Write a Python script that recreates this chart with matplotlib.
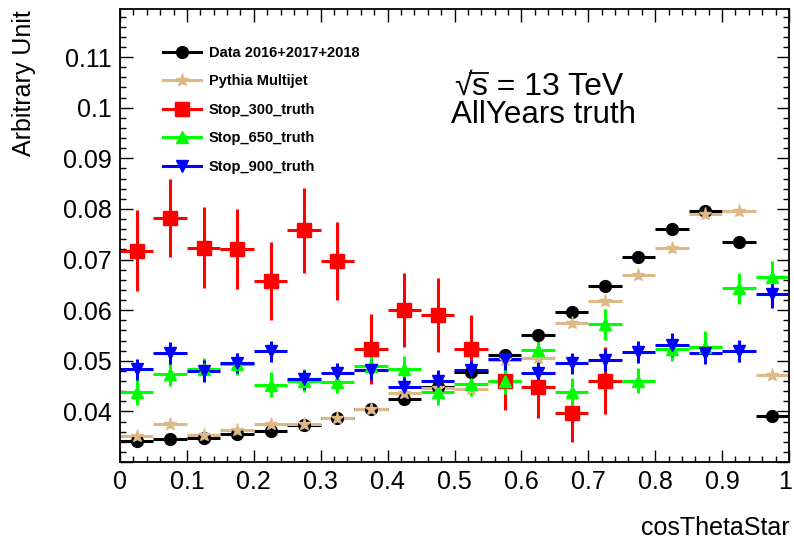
import numpy as np
import matplotlib
matplotlib.use("Agg")
import matplotlib.pyplot as plt
from matplotlib.lines import Line2D
from matplotlib.ticker import MultipleLocator

plt.rcParams['font.family'] = ['Liberation Sans', 'DejaVu Sans']

# cosThetaStar binning: 20 bins on [0, 1]
bin_edges = np.linspace(0.0, 1.0, 21)
centers = 0.5 * (bin_edges[:-1] + bin_edges[1:])
half_width = 0.5 * np.diff(bin_edges)

data_vals = [0.0341, 0.0345, 0.0348, 0.0355, 0.0362, 0.0374, 0.0387, 0.0405,
             0.0424, 0.0448, 0.0478, 0.0512, 0.0550, 0.0596, 0.0648, 0.0705,
             0.0760, 0.0796, 0.0735, 0.0390]
pythia_vals = [0.0352, 0.0376, 0.0353, 0.0364, 0.0376, 0.0376, 0.0386, 0.0405,
               0.0436, 0.0447, 0.0445, 0.0501, 0.0505, 0.0575, 0.0619, 0.0669,
               0.0722, 0.0790, 0.0796, 0.0471]
stop300_vals = [0.0717, 0.0783, 0.0723, 0.0720, 0.0658, 0.0758, 0.0697, 0.0524,
                0.0600, 0.0590, 0.0523, 0.0461, 0.0448, 0.0397, 0.0461]
stop300_err = [0.0080, 0.0077, 0.0080, 0.0079, 0.0077, 0.0084, 0.0077, 0.0069,
               0.0073, 0.0073, 0.0067, 0.0058, 0.0062, 0.0058, 0.0066]
stop650_vals = [0.0438, 0.0473, 0.0483, 0.0494, 0.0453, 0.0461, 0.0459, 0.0490,
                0.0484, 0.0438, 0.0455, 0.0460, 0.0521, 0.0438, 0.0572, 0.0461,
                0.0524, 0.0528, 0.0643, 0.0665]
stop650_err = [0.0025, 0.0023, 0.0023, 0.0022, 0.0025, 0.0022, 0.0022, 0.0022,
               0.0025, 0.0025, 0.0025, 0.0025, 0.0028, 0.0028, 0.0030, 0.0025,
               0.0025, 0.0030, 0.0030, 0.0032]
stop900_vals = [0.0483, 0.0516, 0.0480, 0.0495, 0.0519, 0.0463, 0.0476, 0.0482,
                0.0448, 0.0461, 0.0481, 0.0503, 0.0476, 0.0495, 0.0501, 0.0517,
                0.0532, 0.0515, 0.0520, 0.0631]
stop900_err = [0.0021, 0.0022, 0.0021, 0.0020, 0.0021, 0.0019, 0.0020, 0.0020,
               0.0020, 0.0020, 0.0020, 0.0021, 0.0021, 0.0021, 0.0022, 0.0022,
               0.0022, 0.0022, 0.0022, 0.0026]

labels = ["Data 2016+2017+2018", "Pythia Multijet", "Stop_300_truth",
          "Stop_650_truth", "Stop_900_truth"]
colors = ["#000000", "#DEB887", "#FF0000", "#00FF00", "#0000FF"]
markers = ["o", "*", "s", "^", "v"]
msizes = [8.5, 9.5, 9.5, 9.0, 9.0]

series = [
    (data_vals, None),
    (pythia_vals, None),
    (stop300_vals, stop300_err),
    (stop650_vals, stop650_err),
    (stop900_vals, stop900_err),
]

W, H = 794, 540
fig = plt.figure(figsize=(W / 100, H / 100), dpi=100)
ax = fig.add_axes([120 / W, 1 - 462 / H, 669 / W, 453 / H])

for (vals, errs), col, mk, ms in zip(series, colors, markers, msizes):
    n = len(vals)
    ax.errorbar(centers[:n], vals, xerr=half_width[:n], yerr=errs,
                fmt=mk, color=col, ms=ms, mec=col, mfc=col,
                elinewidth=2.2, capsize=0, linestyle='none')

x_lo, x_hi = 0.0, 1.0
ax.set_xlim(x_lo, x_hi)
ax.set_ylim(0.0300, 0.1195)
ax.xaxis.set_major_locator(MultipleLocator(0.1))
ax.xaxis.set_minor_locator(MultipleLocator(0.02))
ax.yaxis.set_major_locator(MultipleLocator(0.01))
ax.yaxis.set_minor_locator(MultipleLocator(0.002))
# the label at the right end is drawn separately, nudged inside the canvas
ax.xaxis.set_major_formatter(
    plt.FuncFormatter(lambda v, p: "" if v > x_hi - 1e-9 else f"{v:g}"))
ax.yaxis.set_major_formatter(
    plt.FuncFormatter(lambda v, p: "" if v < 0.035 else f"{v:g}"))
ax.tick_params(which='both', direction='in', top=True, right=True,
               width=1.0, labelsize=18)
ax.tick_params(which='major', length=9, pad=6)
ax.tick_params(which='minor', length=4.5)
for sp in ax.spines.values():
    sp.set_linewidth(1.3)
ax.annotate(f"{x_hi:g}", xy=(x_hi, 0), xycoords=('data', 'axes fraction'),
            xytext=(-3, -6), textcoords='offset points',
            ha='center', va='top', fontsize=18, annotation_clip=False)

handles = [Line2D([0], [0], color=c, marker=m, ms=s, lw=2.2)
           for c, m, s in zip(colors, markers, msizes)]
ax.legend(handles, labels, loc='upper left', bbox_to_anchor=(0.056, 0.932),
          frameon=False, prop={'weight': 'bold', 'size': 10.5},
          handlelength=2.6, handletextpad=0.5, labelspacing=1.0,
          borderaxespad=0.0)

# sqrt(s) label: radical glyph, then the text, with a bar over the "s"
fs_lbl = 23
base1 = 1 - 95 / H
renderer = fig.canvas.get_renderer()
rad = fig.text(454 / W, base1, "\u221a", fontsize=fs_lbl, ha='left',
               va='baseline')
rb = rad.get_window_extent(renderer)
rest = fig.text(rb.x1 / W, base1, "s = 13 TeV", fontsize=fs_lbl,
                ha='left', va='baseline')
s_probe = fig.text(0, 0, "s", fontsize=fs_lbl)
s_w = s_probe.get_window_extent(renderer).width
s_probe.remove()
bar_y = (rb.y1 - 1.0) / H
fig.add_artist(Line2D([(rb.x1 - 1.5) / W, (rb.x1 + s_w + 0.5) / W],
                      [bar_y, bar_y], transform=fig.transFigure,
                      color='black', lw=1.3))

fig.text(451 / W, 1 - 123 / H, "AllYears truth",
         fontsize=22.5, ha='left', va='baseline')

fig.text(790 / W, 1 - 535 / H, "cosThetaStar", fontsize=18,
         ha='right', va='baseline')
fig.text(24 / W, 1 - 10 / H, "Arbitrary Unit", fontsize=18,
         ha='center', va='top', rotation=90)

fig.savefig("out.png", dpi=100)
